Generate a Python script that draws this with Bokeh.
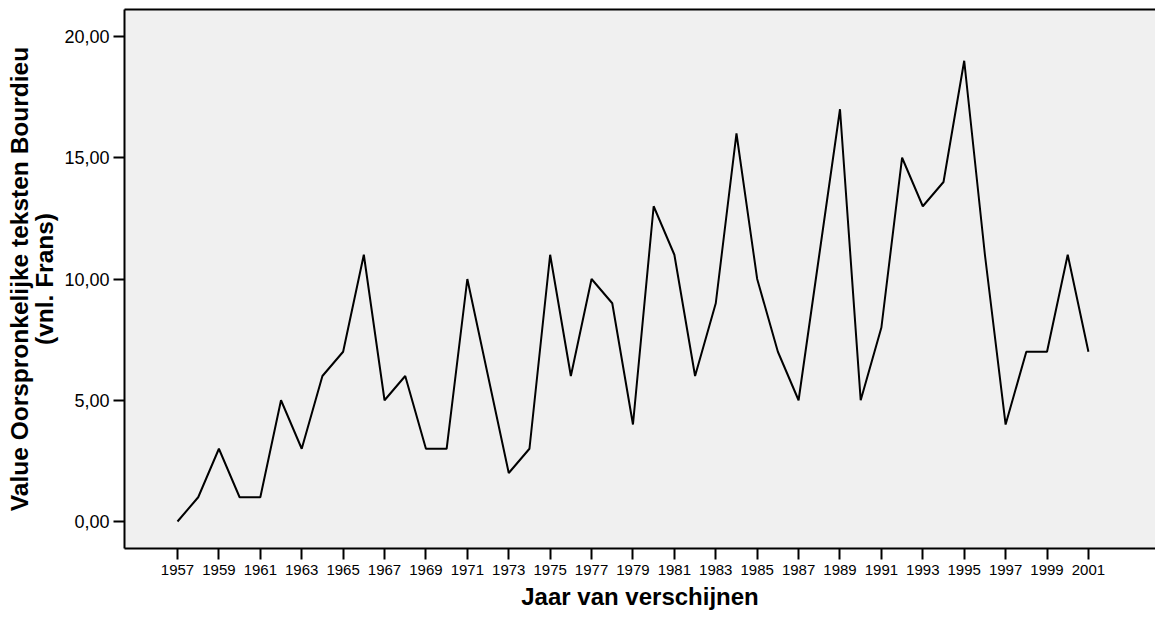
from bokeh.plotting import figure
from bokeh.models import LinearAxis, FixedTicker, CustomJSTickFormatter, Range1d
from bokeh.embed import file_html
from bokeh.resources import INLINE

years = list(range(1957, 2002))
values = [0, 1, 3, 1, 1, 5, 3, 6, 7, 11,
          5, 6, 3, 3, 10, 6, 2, 3, 11, 6,
          10, 9, 4, 13, 11, 6, 9, 16, 10, 7,
          5, 11, 17, 5, 8, 15, 13, 14, 19, 11,
          4, 7, 7, 11, 7]
x_ticks = list(range(1957, 2002, 2))
y_ticks = [0, 5, 10, 15, 20]

p = figure(width=1155, height=621, output_backend="svg", toolbar_location=None,
           x_range=Range1d(1954.44, 2004.24), y_range=Range1d(-1.113, 21.113),
           background_fill_color="#f0f0f0", border_fill_color="white",
           min_border_left=124, min_border_right=0, min_border_top=9, min_border_bottom=73,
           x_axis_label="Jaar van verschijnen",
           y_axis_label="Value Oorspronkelijke teksten Bourdieu\n(vnl. Frans)")
p.outline_line_color = None
p.grid.visible = False

p.line(years, values, line_color="black", line_width=2)

xa = p.xaxis[0]
xa.ticker = FixedTicker(ticks=x_ticks)
xa.minor_tick_line_color = None
xa.major_tick_in = 0
xa.major_tick_out = 11
xa.major_tick_line_width = 2
xa.axis_line_width = 2
xa.major_label_text_font = "Liberation Sans"
xa.major_label_text_font_size = "15px"
xa.major_label_text_color = "black"
xa.major_label_standoff = 5
xa.axis_label_text_font = "Liberation Sans"
xa.axis_label_text_font_style = "bold"
xa.axis_label_text_font_size = "24px"
xa.axis_label_text_color = "black"
xa.axis_label_standoff = 5

ya = p.yaxis[0]
ya.ticker = FixedTicker(ticks=y_ticks)
ya.formatter = CustomJSTickFormatter(code="return tick.toFixed(2).replace('.', ',');")
ya.minor_tick_line_color = None
ya.major_tick_in = 0
ya.major_tick_out = 11
ya.major_tick_line_width = 2
ya.axis_line_width = 2
ya.major_label_text_font = "Liberation Sans"
ya.major_label_text_font_size = "18px"
ya.major_label_text_color = "black"
ya.major_label_standoff = 4
ya.axis_label_text_font = "Liberation Sans"
ya.axis_label_text_font_style = "bold"
ya.axis_label_text_font_size = "24.5px"
ya.axis_label_text_color = "black"
ya.axis_label_text_line_height = 0.95
ya.axis_label_standoff = 3

top = LinearAxis(ticker=FixedTicker(ticks=[]), axis_line_width=2,
                 major_tick_in=0, major_tick_out=0, minor_tick_line_color=None,
                 major_label_text_font_size="0px")
p.add_layout(top, "above")

open("out.html", "w").write(file_html(p, INLINE))
